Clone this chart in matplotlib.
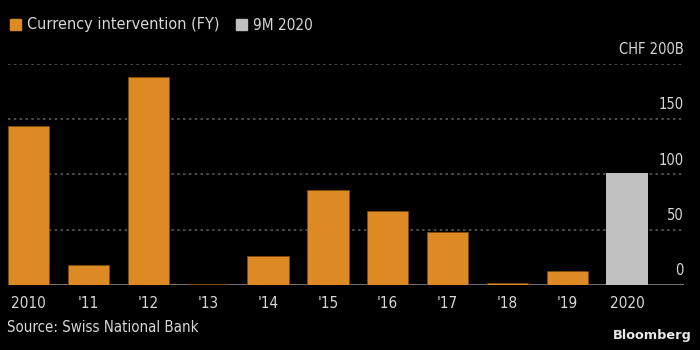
import numpy as np
import matplotlib.pyplot as plt
from matplotlib.patches import Rectangle

labels = ["2010", "'11", "'12", "'13", "'14", "'15", "'16", "'17", "'18", "'19", "2020"]
fy_values = [144, 18, 188, 1, 26, 86, 67, 48, 2, 13]
nine_m_2020 = 101
yticks = [0, 50, 100, 150, 200]
ytick_labels = ["0", "50", "100", "150", "CHF 200B"]

orange = "#DD8A24"
grey = "#C0C0C0"
font = ["DejaVu Sans"]

plt.rcParams['font.family'] = font
fig = plt.figure(figsize=(7, 3.5), dpi=100, facecolor="black")
ax = fig.add_axes([8/700, 65/350, 676/700, 221.5/350], facecolor="black")

x = np.arange(len(labels))
ax.bar(x[:-1], fy_values, width=0.69, color=orange, edgecolor="#7a4a10", linewidth=0.6, zorder=3)
ax.bar(x[-1], nine_m_2020, width=0.69, color=grey, zorder=3)

ax.set_xlim(-0.345, 10.95)
ax.set_ylim(0, 200)
for v in yticks[1:]:
    ax.axhline(v, color="#5a5a5a", lw=1.2, ls=(0, (1.5, 2)), zorder=1)
ax.axhline(0, color="#808080", lw=2, zorder=2)
for v, t in zip(yticks, ytick_labels):
    ax.text(10.95, v + 6, t, color="#d8d8d8", fontsize=10.5, ha="right", va="bottom",
            fontstretch="condensed")

for s in ax.spines.values():
    s.set_visible(False)
ax.set_yticks([])
ax.set_xticks(x)
ax.set_xticklabels(labels, color="#d8d8d8", fontsize=11, fontstretch="condensed")
ax.tick_params(axis="x", length=0, pad=8)

fig.patches.append(Rectangle((10/700, 1 - 30/350), 11/700, 11/350, color=orange, transform=fig.transFigure))
fig.text(27/700, 1 - 25/350, "Currency intervention (FY)", color="#d8d8d8", fontsize=11.6,
         va="center", fontstretch="condensed")
fig.patches.append(Rectangle((236/700, 1 - 30/350), 11/700, 11/350, color=grey, transform=fig.transFigure))
fig.text(253/700, 1 - 25/350, "9M 2020", color="#d8d8d8", fontsize=11, va="center",
         fontstretch="condensed")

fig.text(7/700, 1 - 328/350, "Source: Swiss National Bank", color="#d8d8d8", fontsize=10.8,
         va="center", fontstretch="condensed")
fig.text(692/700, 1 - 336/350, "Bloomberg", color="#e8e8e8", fontsize=9.3, fontweight="bold",
         ha="right", va="center")

fig.savefig("out.png", dpi=100, facecolor="black")
